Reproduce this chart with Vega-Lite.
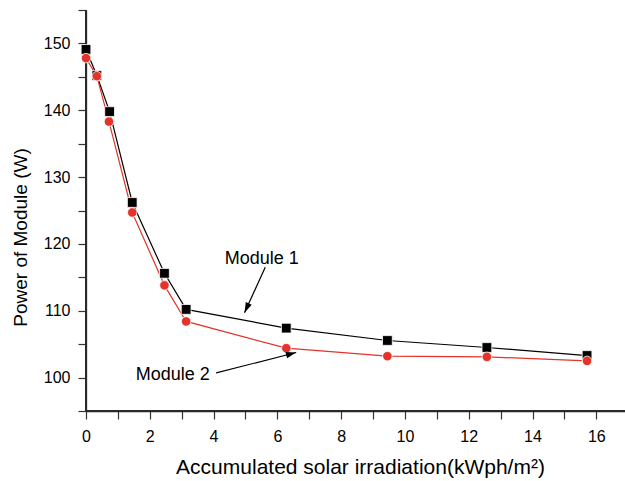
{
  "$schema": "https://vega.github.io/schema/vega-lite/v6.json",
  "width": 539,
  "height": 401,
  "autosize": "none",
  "padding": {"left": 86, "top": 10, "right": 0, "bottom": 70},
  "background": "white",
  "config": {
    "view": {"stroke": null},
    "font": "Liberation Sans",
    "axis": {
      "grid": false,
      "domain": true,
      "domainColor": "#2a2a2a",
      "domainWidth": 1.3,
      "tickColor": "#333333",
      "tickWidth": 1.2,
      "tickSize": 8,
      "labelColor": "#000000",
      "titleColor": "#000000",
      "labelFont": "Liberation Sans",
      "titleFont": "Liberation Sans",
      "labelFontSize": 16,
      "labelFlush": false,
      "titleFontWeight": "normal"
    }
  },
  "data": {
    "values": [
      {"x": 0, "power": 149.1, "module": "Module 1"},
      {"x": 0.34, "power": 145.2, "module": "Module 1"},
      {"x": 0.74, "power": 139.8, "module": "Module 1"},
      {"x": 1.45, "power": 126.2, "module": "Module 1"},
      {"x": 2.46, "power": 115.6, "module": "Module 1"},
      {"x": 3.14, "power": 110.2, "module": "Module 1"},
      {"x": 6.28, "power": 107.4, "module": "Module 1"},
      {"x": 9.45, "power": 105.55, "module": "Module 1"},
      {"x": 12.57, "power": 104.5, "module": "Module 1"},
      {"x": 15.71, "power": 103.3, "module": "Module 1"},
      {"x": 0, "power": 147.8, "module": "Module 2"},
      {"x": 0.34, "power": 145.1, "module": "Module 2"},
      {"x": 0.72, "power": 138.3, "module": "Module 2"},
      {"x": 1.45, "power": 124.7, "module": "Module 2"},
      {"x": 2.46, "power": 113.8, "module": "Module 2"},
      {"x": 3.14, "power": 108.4, "module": "Module 2"},
      {"x": 6.28, "power": 104.4, "module": "Module 2"},
      {"x": 9.45, "power": 103.2, "module": "Module 2"},
      {"x": 12.57, "power": 103.1, "module": "Module 2"},
      {"x": 15.71, "power": 102.5, "module": "Module 2"}
    ]
  },
  "encoding": {
    "x": {
      "field": "x",
      "type": "quantitative",
      "scale": {"domain": [0, 16.9], "nice": false, "zero": false},
      "axis": {
        "values": [0, 1, 2, 3, 4, 5, 6, 7, 8, 9, 10, 11, 12, 13, 14, 15, 16],
        "labelExpr": "datum.value % 2 === 0 ? datum.label : ''",
        "encode": {"ticks": {"update": {"y2": {"signal": "datum.value % 2 === 0 ? 8 : 5"}}}},
        "labelPadding": 9,
        "title": "Accumulated solar irradiation(kWph/m²)",
        "titleFontSize": 21,
        "titleX": 274,
        "titleY": 62,
        "titleBaseline": "alphabetic"
      }
    },
    "y": {
      "field": "power",
      "type": "quantitative",
      "scale": {"domain": [95, 155], "nice": false, "zero": false},
      "axis": {
        "values": [95, 100, 105, 110, 115, 120, 125, 130, 135, 140, 145, 150, 155],
        "labelExpr": "datum.value % 10 === 0 ? datum.label : ''",
        "encode": {"ticks": {"update": {"x2": {"signal": "datum.value % 10 === 0 ? -8 : -6"}}}},
        "labelPadding": 8,
        "title": "Power of Module (W)",
        "titleFontSize": 19,
        "titleAngle": -90,
        "titleAlign": "center",
        "titleBaseline": "middle",
        "titleX": -66,
        "titleY": 227
      }
    }
  },
  "layer": [
    {
      "mark": {"type": "rule", "color": "#2a2a2a", "strokeWidth": 1.3},
      "encoding": {
        "x": {"datum": 0, "type": "quantitative"},
        "y": {"datum": 95, "type": "quantitative"},
        "y2": {"datum": 155}
      }
    },
    {
      "mark": {"type": "rule", "color": "#2a2a2a", "strokeWidth": 1.3},
      "encoding": {
        "x": {"datum": 0, "type": "quantitative"},
        "x2": {"datum": 16.9},
        "y": {"datum": 95, "type": "quantitative"}
      }
    },
    {
      "mark": {"type": "line", "strokeWidth": 1.2},
      "encoding": {
        "color": {"field": "module", "type": "nominal", "scale": {"domain": ["Module 1", "Module 2"], "range": ["#000000", "#e3332a"]}, "legend": null}
      }
    },
    {
      "mark": {"type": "point", "filled": true, "opacity": 1, "stroke": "white", "strokeWidth": 0.8},
      "encoding": {
        "color": {"field": "module", "type": "nominal", "scale": {"domain": ["Module 1", "Module 2"], "range": ["#000000", "#e3332a"]}, "legend": null},
        "fill": {"field": "module", "type": "nominal", "scale": {"domain": ["Module 1", "Module 2"], "range": ["#000000", "#e3332a"]}, "legend": null},
        "shape": {"field": "module", "type": "nominal", "scale": {"domain": ["Module 1", "Module 2"], "range": ["square", "circle"]}, "legend": null},
        "size": {"field": "module", "type": "nominal", "scale": {"domain": ["Module 1", "Module 2"], "range": [95, 90]}, "legend": null}
      }
    },
    {
      "data": {"values": [
        {"x": 5.62, "power": 116.5, "x2": 4.97, "y2": 109.7},
        {"x": 4.08, "power": 100.7, "x2": 6.59, "y2": 103.75}
      ]},
      "mark": {"type": "rule", "color": "#000000", "strokeWidth": 1.2},
      "encoding": {
        "x2": {"field": "x2"},
        "y2": {"field": "y2"}
      }
    },
    {
      "data": {"values": [{"x": 4.97, "power": 109.7}]},
      "mark": {"type": "point", "filled": true, "color": "#000000", "opacity": 1, "shape": "M0,0L-0.32,1L0.32,1Z", "size": 420, "angle": 204.5, "strokeWidth": 0}
    },
    {
      "data": {"values": [{"x": 6.59, "power": 103.75}]},
      "mark": {"type": "point", "filled": true, "color": "#000000", "opacity": 1, "shape": "M0,0L-0.32,1L0.32,1Z", "size": 420, "angle": 75.6, "strokeWidth": 0}
    },
    {
      "data": {"values": [
        {"x": 5.51, "power": 117.0, "label": "Module 1"},
        {"x": 2.72, "power": 99.68, "label": "Module 2"}
      ]},
      "mark": {"type": "text", "fontSize": 18, "align": "center", "baseline": "alphabetic", "color": "#000000", "font": "Liberation Sans"},
      "encoding": {"text": {"field": "label"}}
    }
  ]
}
